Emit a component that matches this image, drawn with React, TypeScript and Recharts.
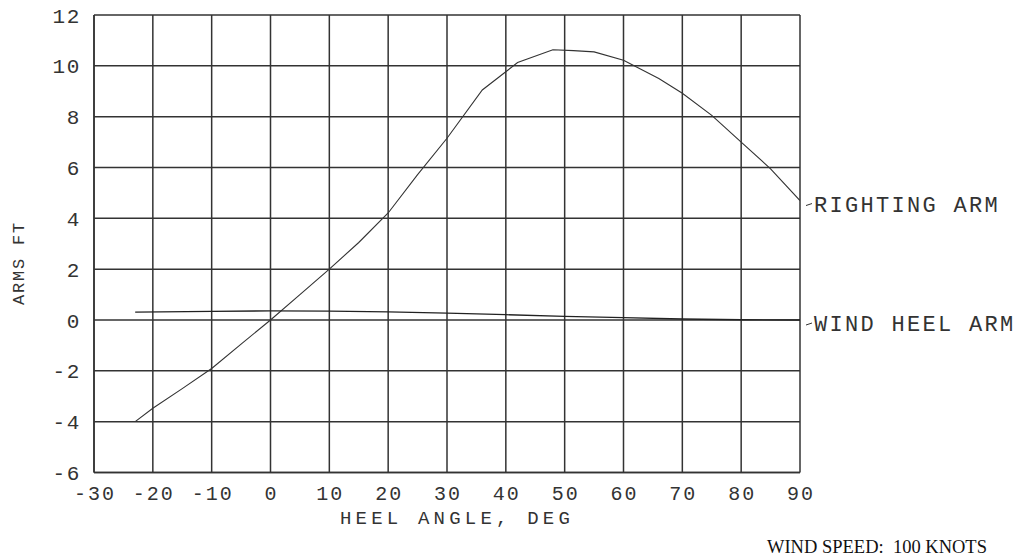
import React from "react";
import { LineChart, Line, XAxis, YAxis, CartesianGrid } from "recharts";

const rightingAngles = [-23, -20, -15, -10, -5, 0, 5, 10, 15, 20, 25, 30, 36, 42, 48, 51.5, 55, 60, 66, 70, 75, 80, 85, 90];
const rightingArm = [-4.0, -3.47, -2.7, -1.91, -0.95, 0.0, 1.0, 2.0, 3.05, 4.21, 5.72, 7.15, 9.05, 10.13, 10.63, 10.6, 10.55, 10.22, 9.5, 8.92, 8.05, 7.0, 5.95, 4.7];

const windAngles = [-23, -10, 0, 10, 20, 30, 40, 50, 60, 70, 80, 90];
const windHeelArm = [0.31, 0.34, 0.36, 0.35, 0.32, 0.27, 0.21, 0.14, 0.09, 0.04, 0.01, 0.0];

const xTicks = [-30, -20, -10, 0, 10, 20, 30, 40, 50, 60, 70, 80, 90];
const yTicks = [-6, -4, -2, 0, 2, 4, 6, 8, 10, 12];

const seriesNames = ["RIGHTING ARM", "WIND HEEL ARM"];
const xLabel = "HEEL ANGLE, DEG";
const yLabel = "ARMS FT";
const note = "WIND SPEED:  100 KNOTS";

const rightingData = rightingAngles.map((a, i) => ({ x: a, y: rightingArm[i] }));
const windData = windAngles.map((a, i) => ({ x: a, y: windHeelArm[i] }));

const MONO = "'Liberation Mono', 'DejaVu Sans Mono', monospace";
const INK = "#333";

const XTick = (props: any) => {
  const { x, payload } = props;
  return (
    <text x={x + 1} y={500} textAnchor="middle" fontFamily={MONO} fontSize={20} letterSpacing={2} fill={INK}>
      {payload.value}
    </text>
  );
};

const YTick = (props: any) => {
  const { y, payload } = props;
  return (
    <text x={81} y={y + 7.5} textAnchor="end" fontFamily={MONO} fontSize={21} letterSpacing={1.6} fill={INK}>
      {payload.value}
    </text>
  );
};

const makeEndLabel = (name: string, lastIndex: number) => (props: any) => {
  const { x, y, index } = props;
  if (index !== lastIndex) return <g />;
  return (
    <g>
      <line x1={x + 6} y1={y + 5} x2={x + 12} y2={y + 3} stroke={INK} strokeWidth={1} />
      <text x={x + 14} y={y + 11} fontFamily={MONO} fontSize={22} letterSpacing={2.3} fill={INK}>
        {name}
      </text>
    </g>
  );
};

export default function App() {
  return (
    <div style={{ position: "absolute", left: 0, top: 0, width: 1021, height: 559, background: "#fff" }}>
      <LineChart width={1021} height={559} margin={{ top: 15, right: 221, bottom: 0, left: 0 }}>
        <CartesianGrid stroke="#333" strokeWidth={1.5} />
        <XAxis
          type="number"
          dataKey="x"
          domain={[-30, 90]}
          ticks={xTicks}
          tick={<XTick />}
          tickLine={false}
          tickSize={0}
          axisLine={{ stroke: "#333", strokeWidth: 1.5 }}
          height={86.5}
          allowDataOverflow
          label={{
            value: xLabel,
            content: () => (
              <text x={457} y={524} textAnchor="middle" fontFamily={MONO} fontSize={19} letterSpacing={4.2} fill={INK}>
                {xLabel}
              </text>
            ),
          }}
        />
        <YAxis
          type="number"
          domain={[-6, 12]}
          ticks={yTicks}
          tick={<YTick />}
          tickLine={false}
          tickSize={0}
          axisLine={{ stroke: "#333", strokeWidth: 1.5 }}
          width={94}
          allowDataOverflow
          label={{
            value: yLabel,
            content: () => (
              <text
                x={0}
                y={0}
                transform="translate(24,263) rotate(-90)"
                textAnchor="middle"
                fontFamily={MONO}
                fontSize={17}
                letterSpacing={1.8}
                fill={INK}
              >
                {yLabel}
              </text>
            ),
          }}
        />
        <Line
          data={rightingData}
          dataKey="y"
          type="linear"
          stroke="#333"
          strokeWidth={1.1}
          dot={false}
          isAnimationActive={false}
          label={makeEndLabel(seriesNames[0], rightingData.length - 1)}
        />
        <Line
          data={windData}
          dataKey="y"
          type="linear"
          stroke="#222"
          strokeWidth={1.3}
          dot={false}
          isAnimationActive={false}
          label={makeEndLabel(seriesNames[1], windData.length - 1)}
        />
      </LineChart>
      <div
        style={{
          position: "absolute",
          left: 767,
          top: 537,
          fontFamily: "'Liberation Serif', 'Times New Roman', serif",
          fontSize: 18.5,
          lineHeight: "20px",
          color: "#111",
          whiteSpace: "pre",
        }}
      >
        {note}
      </div>
    </div>
  );
}
